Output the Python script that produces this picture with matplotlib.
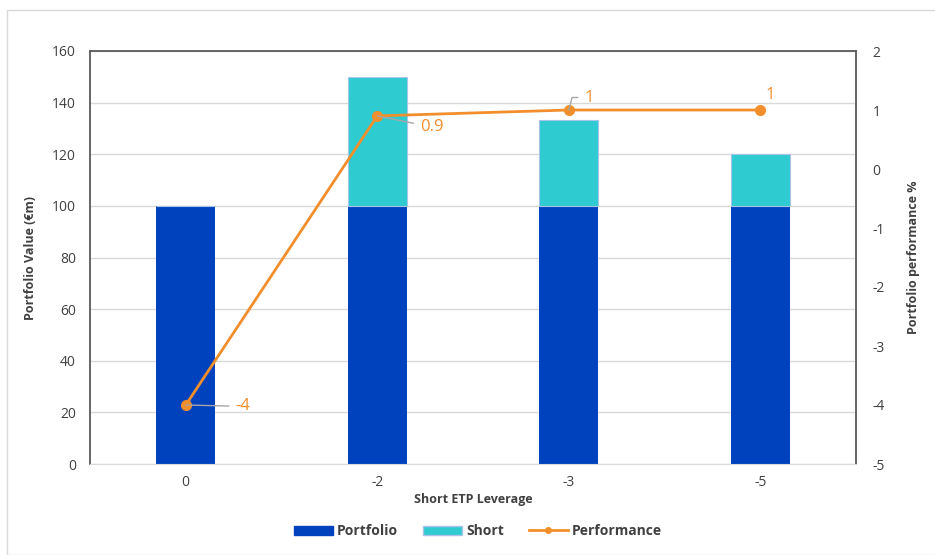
import matplotlib
matplotlib.use("Agg")
import matplotlib.pyplot as plt
from matplotlib.patches import Rectangle
from matplotlib.lines import Line2D
import numpy as np

categories = ['0', '-2', '-3', '-5']
portfolio = [100, 100, 100, 100]
short = [0, 50, 33.3, 20]
performance = [-4, 0.9, 1, 1]
perf_labels = ['-4', '0.9', '1', '1']

C_PORT = '#0041BE'
C_SHORT = '#2ECBD1'
C_PERF = '#F28E2B'
TXT = '#404040'

plt.rcParams['font.family'] = ['Open Sans', 'DejaVu Sans']
plt.rcParams['axes.unicode_minus'] = False

fig = plt.figure(figsize=(9.35, 5.55), dpi=100)
fig.patches.append(Rectangle((7/935, 0), 1, 1 - 10/555, transform=fig.transFigure,
                             fill=False, edgecolor='#D9D9D9', linewidth=1))
ax = fig.add_axes([90/935, 1 - 464/555, (856-90)/935, (464-51)/555])
ax2 = ax.twinx()

x = np.arange(len(categories))
w = 0.31
ax.bar(x, portfolio, w, color=C_PORT, zorder=2)
ax.bar(x, short, w, bottom=portfolio, color=C_SHORT, edgecolor='#A9C4E8', linewidth=0.8, zorder=2)
ax.set_xlim(-0.5, len(categories) - 0.5)
ax.set_ylim(0, 160)
ax.set_yticks(range(0, 161, 20))
ax.grid(axis='y', color='#D9D9D9', linewidth=1, zorder=0)
ax.set_axisbelow(True)
ax.set_xticks(x)
ax.set_xticklabels(categories)
ax.tick_params(length=0, labelsize=10, colors=TXT, pad=8)
ax.tick_params(axis='y', pad=10)
for s in ['left', 'top', 'right']:
    ax.spines[s].set_color('#595959')
    ax.spines[s].set_linewidth(1.3)
ax.spines['bottom'].set_color('#D9D9D9')
ax.set_ylabel('Portfolio Value (€m)', fontsize=9, fontweight='bold', color=TXT, labelpad=11)
ax.set_xlabel('Short ETP Leverage', fontsize=9, fontweight='bold', color=TXT, labelpad=2)

ax2.plot(x, performance, color=C_PERF, linewidth=2, marker='o', markersize=7, zorder=3)
ax2.set_ylim(-5, 2)
ax2.set_yticks(range(-5, 3))
ax2.tick_params(length=0, labelsize=10, colors=TXT, pad=12)
for s in ax2.spines.values():
    s.set_visible(False)
ax2.set_ylabel('Portfolio performance %', fontsize=9, fontweight='bold', color=TXT,
               rotation=90, labelpad=16)

offsets = [(36, -1), (31, -8), (11.5, 9), (3.5, 11)]
for i, (v, lab) in enumerate(zip(performance, perf_labels)):
    off = offsets[i]
    if i == 3:
        ax2.annotate(lab, (x[i], v), xytext=off, textcoords='offset points',
                     color=C_PERF, fontsize=12, ha='left', va='center')
    else:
        ax2.annotate(lab, (x[i], v), xytext=off, textcoords='offset points',
                     color=C_PERF, fontsize=12, ha='left', va='center',
                     arrowprops=dict(arrowstyle='-', color='#A6A6A6', lw=1,
                                     shrinkA=3, shrinkB=0,
                                     connectionstyle='angle,angleA=0,angleB=75' if i == 2 else 'arc3'))

handles = [Rectangle((0, 0), 1, 1, color=C_PORT),
           Rectangle((0, 0), 1, 1, facecolor=C_SHORT, edgecolor='#A9C4E8'),
           Line2D([0], [0], color=C_PERF, lw=2, marker='o', markersize=4)]
fig.legend(handles, ['Portfolio', 'Short', 'Performance'], loc='center',
           bbox_to_anchor=(478/935, 1 - 531/555), ncol=3, frameon=False,
           handlelength=2.8, handleheight=0.6, columnspacing=1.8,
           handletextpad=0.3, labelcolor=TXT, prop={'weight': 'bold', 'size': 10})

fig.savefig('out.png', dpi=100)
